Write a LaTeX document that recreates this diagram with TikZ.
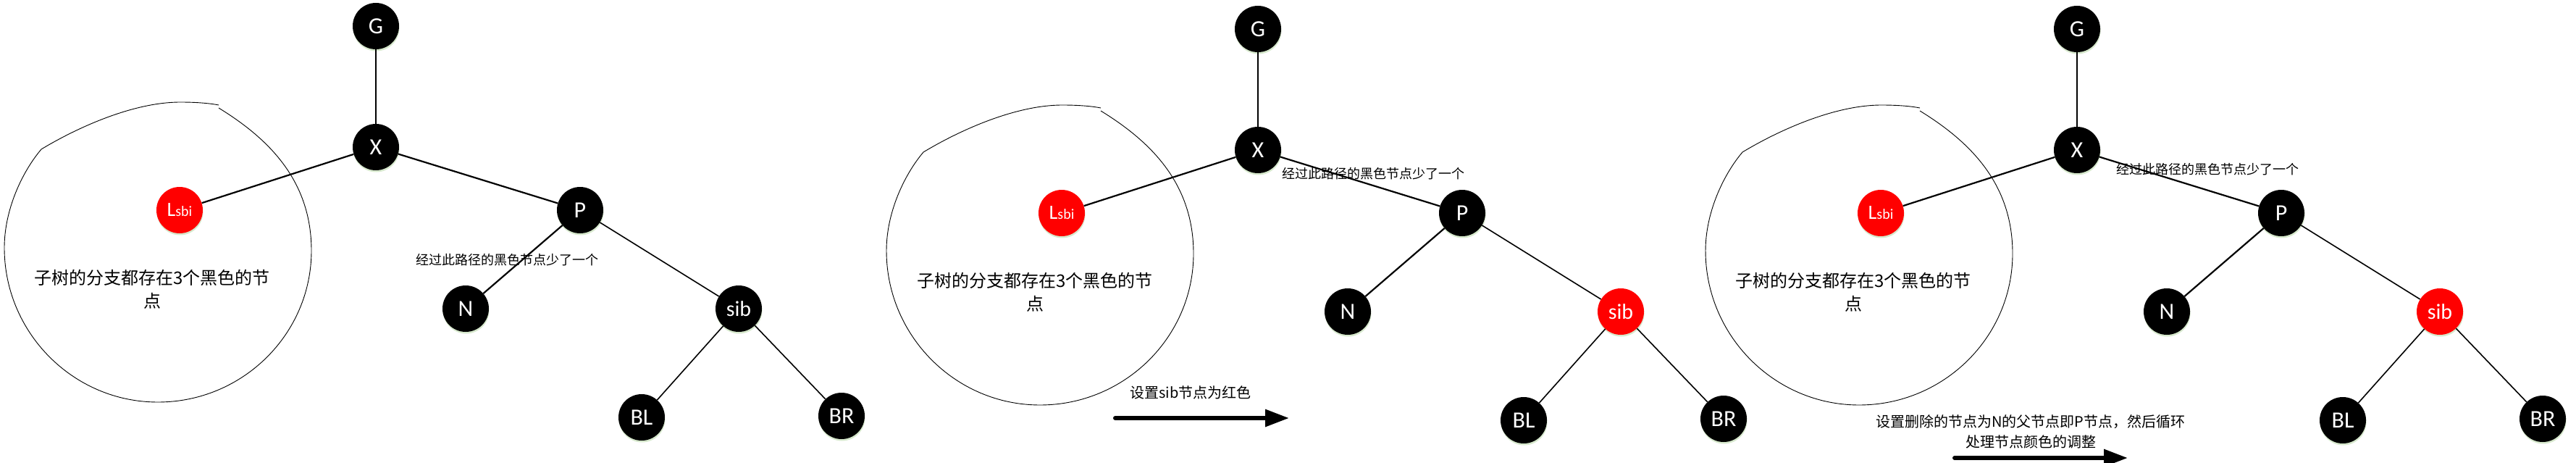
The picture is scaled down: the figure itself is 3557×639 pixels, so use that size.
\documentclass[tikz,border=0pt]{standalone}
\usepackage{fontspec}
\setmainfont{Carlito}
\newfontfamily\cjk{Noto Sans CJK SC}
\usetikzlibrary{arrows.meta,shadows}
\definecolor{shadowc}{RGB}{214,232,204}
\definecolor{nodered}{RGB}{255,0,0}
\tikzset{
  treenode/.style={circle, minimum size=64pt, inner sep=0pt, text=white,
    font=\fontsize{32}{32}\selectfont,
    drop shadow={shadow xshift=0.5pt, shadow yshift=-2.5pt, fill=shadowc, opacity=1}},
  blacknode/.style={treenode, fill=black},
  rednode/.style={treenode, fill=nodered},
  thinedge/.style={line width=1.3pt},
  midedge/.style={line width=1.6pt},
  thickedge/.style={line width=2.2pt},
  outlinepath/.style={line width=0.9pt, line join=round},
  pathnote/.style={font={\cjk\fontsize{18}{18}\selectfont}, inner sep=0pt},
  subnote/.style={font={\cjk\fontsize{24}{32}\selectfont}, align=center, inner sep=0pt},
  stepnote/.style={font={\cjk\fontsize{20}{28}\selectfont}, align=center, inner sep=0pt},
  bigarrow/.style={line width=6pt, line cap=round, -{Triangle[length=33pt,width=23pt]}}
}
\newcommand\subtreeoutline{%
  \draw[outlinepath] (302,149) .. controls (372,192) and (430,250) .. (430,346)
    .. controls (430,461) and (335,555) .. (218,555)
    .. controls (101,555) and (6,459) .. (6,342)
    .. controls (6,290) and (30,238) .. (57,206)
    .. controls (100,180) and (180,141) .. (249,141)
    .. controls (275,141) and (292,143) .. (302,145);
}
\newcommand\rbtree[2]{%
  \node[blacknode] (G#1) at (519,36) {G};
  \node[blacknode] (X#1) at (519,203) {X};
  \node[rednode] (L#1) at (248,290) {\fontsize{28}{28}\selectfont L\fontsize{20}{20}\selectfont sbi};
  \node[blacknode] (P#1) at (801,290) {P};
  \node[blacknode] (N#1) at (643,426) {N};
  \node[#2, font=\fontsize{30}{30}\selectfont] (S#1) at (1020,426) {sib};
  \node[blacknode] (BL#1) at (886,576) {BL};
  \node[blacknode] (BR#1) at (1162,574) {BR};
  \draw[thinedge] (G#1) -- (X#1);
  \draw[thickedge] (X#1) -- (L#1);
  \draw[thickedge] (X#1) -- (P#1);
  \draw[thickedge] (P#1) -- (N#1);
  \draw[midedge] (P#1) -- (S#1);
  \draw[midedge] (S#1) -- (BL#1);
  \draw[midedge] (S#1) -- (BR#1);
  \subtreeoutline
}
\begin{document}
\begin{tikzpicture}[x=1pt, y=-1pt]
\useasboundingbox (0,0) rectangle (3557,639);
\clip (0,0) rectangle (3557,639);
\fill[white] (0,0) rectangle (3557,639);

\begin{scope}
  \rbtree{a}{blacknode}
\end{scope}
\begin{scope}[shift={(1218,4)}]
  \rbtree{b}{rednode}
\end{scope}
\begin{scope}[shift={(2349,4)}]
  \rbtree{c}{rednode}
\end{scope}

\node[subnote] (ea) at (210,399) {子树的分支都存在3个黑色的节\\点};
\node[subnote] (eb) at (1429,403) {子树的分支都存在3个黑色的节\\点};
\node[subnote] (ec) at (2559,403) {子树的分支都存在3个黑色的节\\点};

\node[pathnote] (na) at (700,359) {经过此路径的黑色节点少了一个};
\node[pathnote] (nb) at (1896,240) {经过此路径的黑色节点少了一个};
\node[pathnote] (nc) at (3048,234) {经过此路径的黑色节点少了一个};

\node[stepnote] (sb) at (1644,542) {设置sib节点为红色};
\node[stepnote] (sc) at (2804,596) {设置删除的节点为N的父节点即P节点，然后循环\\处理节点颜色的调整};

\coordinate (abs) at (1540,577);
\coordinate (abe) at (1780,577);
\draw[bigarrow] (abs) -- (abe);
\coordinate (acs) at (2699,632);
\coordinate (ace) at (2938,632);
\draw[bigarrow] (acs) -- (ace);
\end{tikzpicture}
\end{document}
